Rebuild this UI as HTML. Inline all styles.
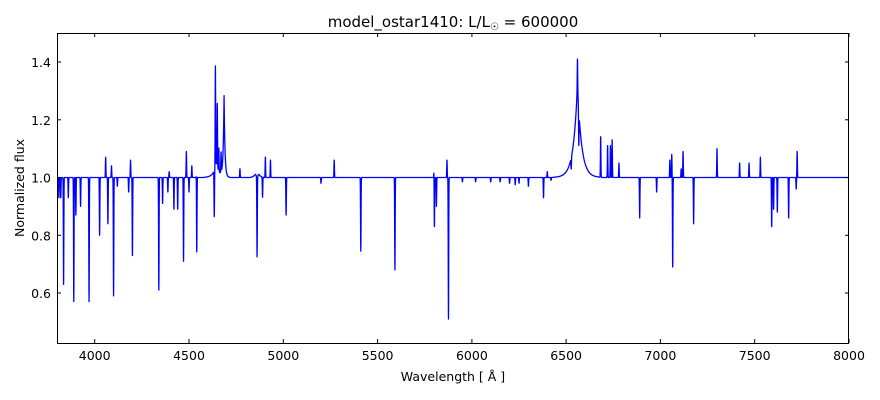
<!DOCTYPE html>
<html><head><meta charset="utf-8"><style>
body{margin:0;background:#fff;}
svg{display:block;font-family:"DejaVu Sans","Liberation Sans",sans-serif;}
</style></head><body>
<svg id="s" width="880" height="400" viewBox="0 0 880 400">
<rect width="880" height="400" fill="#fff"/>
<defs><clipPath id="c"><rect x="57" y="33" width="792" height="310"/></clipPath></defs>
<path id="p" clip-path="url(#c)" fill="none" stroke="#0000ff" stroke-width="1.3" stroke-linejoin="round" d=""/>
<rect x="57.5" y="33.5" width="791" height="310" fill="none" stroke="#000" stroke-width="1"/>
<g id="t" stroke="#000" stroke-width="1"></g>
<g id="l" font-size="12.5" fill="#000"></g>
<text x="453" y="27" font-size="15" text-anchor="middle">model_ostar1410: L/L<tspan font-size="10" dy="3">☉</tspan><tspan dy="-3"> = 600000</tspan></text>
<text x="453" y="381" font-size="12.5" text-anchor="middle">Wavelength [ Å ]</text>
<text transform="translate(24,188) rotate(-90)" font-size="12.5" text-anchor="middle">Normalized flux</text>
</svg>
<script>
var X=function(w){return 57+(w-3800)*792/4200};
var Y=function(f){return 177.5-(f-1)*288.75};
var t=document.getElementById('t'),l=document.getElementById('l'),h='',g='';
for(var w=4000;w<=8000;w+=500){var x=X(w).toFixed(1);h+='<line x1="'+x+'" y1="343" x2="'+x+'" y2="339"/><line x1="'+x+'" y1="33" x2="'+x+'" y2="37"/>';g+='<text x="'+x+'" y="360" text-anchor="middle">'+w+'</text>';}
for(var f=0.6;f<1.45;f+=0.2){var y=Y(f).toFixed(1);h+='<line x1="57" y1="'+y+'" x2="61" y2="'+y+'"/><line x1="849" y1="'+y+'" x2="845" y2="'+y+'"/>';g+='<text x="51" y="'+(+y+5)+'" text-anchor="end">'+f.toFixed(1)+'</text>';}
t.innerHTML=h;l.innerHTML=g;
var L=[[3835,.63],[3860,.93],[3889,.57],[3900,.87],[3925,.9],[3970,.57],[4026,.8],[4070,.84],[4100,.59],[4120,.97],[4200,.73],[4340,.61],[4360,.87],[4388,.95],[4420,.89],[4440,.89],[4471,.71],[4500,.95],[4541,.70],[4634,.84],[4861,.72],[4890,.93],[5015,.87],[5411,.745],[5592,.68],[5801,.77],[5812,.9],[5876,.51],[6380,.93],[6527,.96],[6683,.89],[6890,.86],[6980,.95],[7065,.69],[7176,.84],[7590,.83],[7600,.89],[7620,.88],[7680,.86],[7720,.96],[3810,.93],[3820,.93],[4180,.95],[5200,.98],[6300,.97],[6250,.98],[6420,.97],[6150,.985],[6200,.98],[6100,.985],[6020,.985],[5950,.985],[6230,.975],
[4058,1.07],[4089,1.04],[4190,1.06],[4486,1.09],[4515,1.04],[4540,1.06],[4640,1.35],[4650,1.22],[4658,1.08],[4670,1.07],[4770,1.03],[4905,1.07],[4932,1.06],[5270,1.06],[5800,1.09],[5868,1.06],[6683,1.25],[6720,1.11],[6735,1.11],[6744,1.13],[6780,1.05],[7050,1.06],[7060,1.08],[7110,1.03],[7120,1.09],[7300,1.10],[7420,1.05],[7470,1.05],[7530,1.07],[7725,1.09],[4360,1.04],[4395,1.02],[6400,1.02],[6420,1.02],[6560,1.09],[6567,0.88]];
var E=[[4686,.28,6],[4645,.05,20],[4861,.035,12],[6560,.32,28]];
var P=[];
for(var w=3800;w<=8000;w+=0.5){var f=1;
for(var i=0;i<E.length;i++){var z=Math.abs(w-E[i][0])/E[i][2];f+=E[i][1]*Math.exp(-z*1.3);}
var z0=(w-4861)/4;f-=0.03*Math.exp(-z0*z0/2);
for(var i=0;i<L.length;i++){var z=(w-L[i][0])/1.2;f+=(L[i][1]-1)*Math.exp(-z*z/2);}
P.push([X(w),Y(f),Math.abs(f-1)<0.0008]);}
var d='';
for(var i=0;i<P.length;i++){
 if(P[i][2]&&i>0&&i<P.length-1&&P[i-1][2]&&P[i+1][2])continue;
 d+=(d?'L':'M')+P[i][0].toFixed(2)+' '+(P[i][2]?177.5:P[i][1]).toFixed(2);}
document.getElementById('p').setAttribute('d',d);
</script>
</body></html>
